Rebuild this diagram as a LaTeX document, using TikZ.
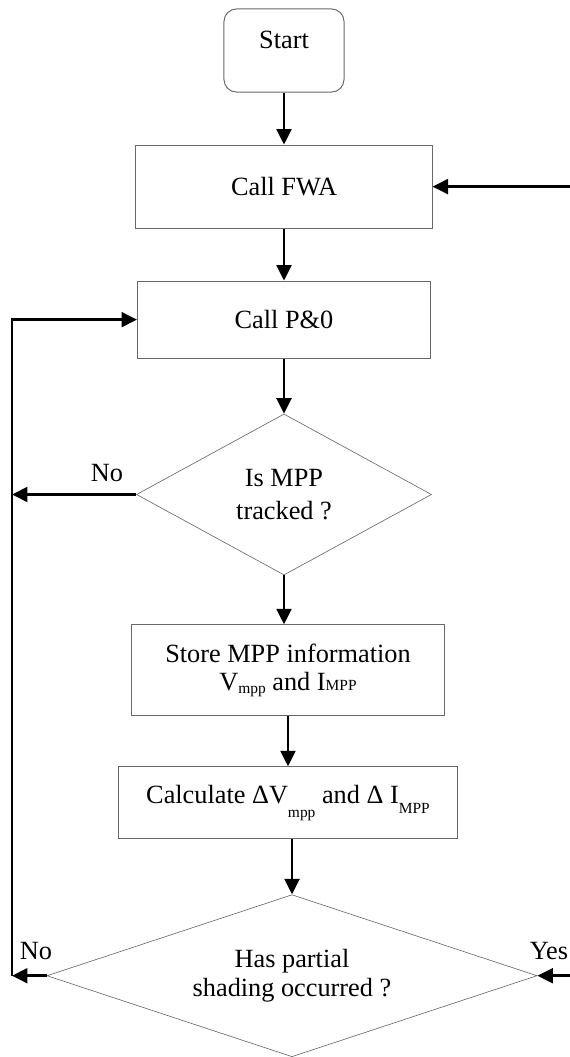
\documentclass[tikz,border=0pt]{standalone}
\usepackage{fontspec}
\setmainfont{Liberation Serif}
\usetikzlibrary{arrows.meta,positioning,shapes.geometric}
\definecolor{edgegray}{RGB}{105,105,105}
\newcommand{\subtxt}[2]{\raisebox{#1}{\fontsize{11}{11}\selectfont #2}}
\tikzset{termbox/.style={draw=edgegray, rounded corners=9pt, line width=0.7pt, minimum width=3cm, inner sep=0pt}, procbox/.style={draw=edgegray, line width=0.7pt, align=center, inner sep=2pt}, decbox/.style={diamond, draw=edgegray, line width=0.45pt, align=center, inner sep=0pt}, flow/.style={-{Triangle[length=11pt,width=10.5pt]}, line width=2pt}, tag/.style={inner sep=0pt}}

\begin{document}
\begin{tikzpicture}[x=0.025cm,y=-0.025cm,font=\fontsize{18.7}{20}\selectfont]
\useasboundingbox (0,0) rectangle (570,1057);
\node[termbox,text height=0.99cm,text depth=1.09cm] (start) at (284,50.5) {Start};
\node[procbox,below=1.3cm of start,minimum width=7.4cm,minimum height=2.075cm] (fwa) {Call FWA};
\node[procbox,below=1.3cm of fwa,minimum width=7.325cm,minimum height=1.925cm] (po) {Call P\&0};
\node[decbox,aspect=1.8,below=1.375cm of po,minimum width=7.375cm,minimum height=4.025cm] (track) {Is MPP\\[3.5pt]tracked ?};
\node[procbox,below=1.225cm of track,xshift=0.1cm,minimum width=7.825cm,minimum height=2.275cm] (store) {Store MPP information\\V\subtxt{-1.5pt}{mpp} and I\subtxt{0pt}{MPP}};
\node[procbox,below=1.25cm of store,minimum width=8.45cm,minimum height=1.8cm] (delta) {Calculate ΔV\subtxt{-10pt}{mpp} and Δ I\subtxt{-7pt}{MPP}};
\node[decbox,aspect=2.6,below=1.375cm of delta,xshift=0.1cm,minimum width=12.25cm,minimum height=4.05cm] (shade) {Has partial\\shading occurred ?};
\node[tag] (notrack) at (107,473) {No};
\node[tag] (noshade) at (36,951) {No};
\node[tag] (yesshade) at (549,951) {Yes};
\coordinate (loopx) at (12,0);
\coordinate (edgex) at (575,0);
\draw[flow] (start) -- (fwa); \draw[flow] (fwa) -- (po); \draw[flow] (po) -- (track); \draw[flow] (track.south) -- (track.south |- store.north); \draw[flow] (store) -- (delta); \draw[flow] (delta.south -| shade.north) -- (shade.north);
\draw[flow] (shade.west) -- (shade.west -| loopx); \draw[flow] (track.west) -- (track.west -| loopx); \draw[flow] (shade.west -| loopx) |- (po.west);
\draw[flow] (fwa.east -| edgex) -- (fwa.east); \draw[flow] (shade.east -| edgex) -- (shade.east);
\end{tikzpicture}
\end{document}
